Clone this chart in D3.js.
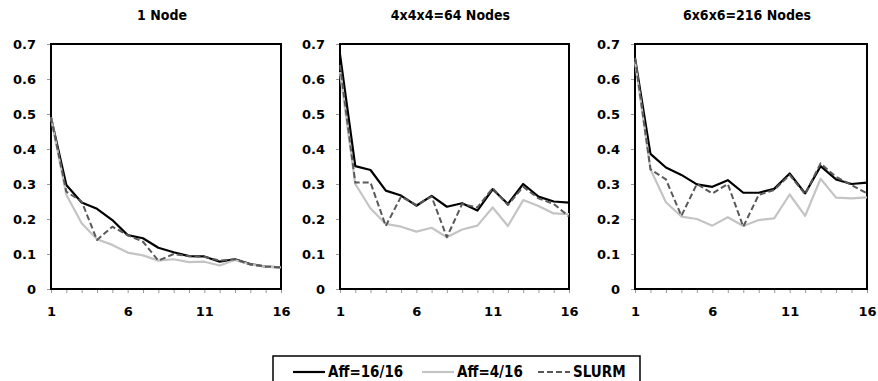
<!DOCTYPE html>
<meta charset="utf-8">
<head>
<style>
body { margin: 0; background: #fff; }
.axis text { font-family: 'DejaVu Sans', Verdana, sans-serif; font-weight: bold; font-size: 13px; fill: #000; }
.axis path { display: none; }
.x.axis line { stroke: #999; }
.y.axis line { stroke: #999; }
.title { font-family: 'Liberation Sans Narrow', 'DejaVu Sans Condensed', 'DejaVu Sans', sans-serif; font-weight: bold; font-size: 14px; }
.legend text { font-family: 'Liberation Sans Narrow', 'DejaVu Sans Condensed', 'DejaVu Sans', sans-serif; font-weight: bold; font-size: 15px; }
</style>
</head>
<body>
<div id="chart"></div>
<script src="https://d3js.org/d3.v7.min.js"></script>
<script>

var threads = d3.range(1, 17);
var xLabels = [1, 6, 11, 16];
var yTicks = [0, 0.1, 0.2, 0.3, 0.4, 0.5, 0.6, 0.7];
var titles = ["1 Node", "4x4x4=64 Nodes", "6x6x6=216 Nodes"];
var seriesNames = ["Aff=16/16", "Aff=4/16", "SLURM"];

// one array per panel and series
var node1Aff16 = [0.49, 0.297, 0.247, 0.229, 0.197, 0.154, 0.145, 0.118, 0.105, 0.094, 0.093, 0.078, 0.085, 0.071, 0.064, 0.062];
var node1Aff4  = [0.49, 0.269, 0.188, 0.142, 0.126, 0.104, 0.096, 0.081, 0.085, 0.077, 0.078, 0.067, 0.083, 0.070, 0.064, 0.062];
var node1Slurm = [0.49, 0.278, 0.250, 0.140, 0.178, 0.154, 0.135, 0.081, 0.100, 0.094, 0.092, 0.081, 0.085, 0.070, 0.064, 0.062];

var node64Aff16 = [0.67, 0.351, 0.340, 0.281, 0.267, 0.238, 0.266, 0.235, 0.245, 0.224, 0.285, 0.243, 0.300, 0.264, 0.250, 0.247];
var node64Aff4  = [0.62, 0.300, 0.230, 0.186, 0.178, 0.164, 0.175, 0.148, 0.170, 0.181, 0.233, 0.180, 0.254, 0.237, 0.216, 0.214];
var node64Slurm = [0.64, 0.304, 0.304, 0.180, 0.264, 0.240, 0.264, 0.148, 0.243, 0.233, 0.288, 0.240, 0.292, 0.259, 0.243, 0.207];

var node216Aff16 = [0.66, 0.386, 0.347, 0.326, 0.299, 0.292, 0.311, 0.275, 0.275, 0.286, 0.330, 0.273, 0.351, 0.313, 0.300, 0.304];
var node216Aff4  = [0.65, 0.342, 0.248, 0.207, 0.200, 0.181, 0.205, 0.180, 0.197, 0.202, 0.270, 0.209, 0.315, 0.261, 0.259, 0.262];
var node216Slurm = [0.66, 0.342, 0.313, 0.209, 0.300, 0.273, 0.300, 0.178, 0.269, 0.283, 0.326, 0.271, 0.359, 0.320, 0.297, 0.273];

var panels = [
  {title: titles[0], x0: 51, x1: 281, series: [node1Aff16, node1Aff4, node1Slurm]},
  {title: titles[1], x0: 340, x1: 569, series: [node64Aff16, node64Aff4, node64Slurm]},
  {title: titles[2], x0: 635, x1: 867, series: [node216Aff16, node216Aff4, node216Slurm]}
];

var styles = [
  {stroke: "#000", width: 2.2, dash: null},
  {stroke: "#c4c4c4", width: 2.2, dash: null},
  {stroke: "#595959", width: 2, dash: "6,3"}
];

var plotTop = 44, plotBottom = 289;

var svg = d3.select("#chart").append("svg")
    .attr("width", 878)
    .attr("height", 381);

var y = d3.scaleLinear().domain([0, 0.7]).range([plotBottom, plotTop]);

panels.forEach(function(p) {
  var x = d3.scaleLinear().domain([1, 16]).range([p.x0, p.x1]);

  var g = svg.append("g");

  g.append("text")
      .attr("class", "title")
      .attr("x", (p.x0 + p.x1) / 2 - 4)
      .attr("y", 20)
      .attr("text-anchor", "middle")
      .text(p.title);

  g.append("g")
      .attr("class", "x axis")
      .attr("transform", "translate(0," + plotBottom + ")")
      .call(d3.axisBottom(x)
        .tickValues(threads)
        .tickSize(4)
        .tickPadding(14)
        .tickFormat(function(d) { return xLabels.indexOf(d) >= 0 ? d : ""; }));

  g.append("g")
      .attr("class", "y axis")
      .attr("transform", "translate(" + p.x0 + ",0)")
      .call(d3.axisLeft(y)
        .tickValues(yTicks)
        .tickSize(4)
        .tickPadding(11)
        .tickFormat(function(d) { return d === 0 ? "0" : d3.format(".1f")(d); }));

  g.append("rect")
      .attr("x", p.x0)
      .attr("y", plotTop)
      .attr("width", p.x1 - p.x0)
      .attr("height", plotBottom - plotTop)
      .attr("fill", "none")
      .attr("stroke", "#000")
      .attr("stroke-width", 2);

  var line = d3.line()
      .x(function(d, i) { return x(threads[i]); })
      .y(function(d) { return y(d); });

  p.series.forEach(function(s, k) {
    g.append("path")
        .datum(s)
        .attr("d", line)
        .attr("fill", "none")
        .attr("stroke", styles[k].stroke)
        .attr("stroke-width", styles[k].width)
        .attr("stroke-dasharray", styles[k].dash)
        .attr("stroke-linejoin", "round");
  });
});

// legend
var legend = svg.append("g").attr("class", "legend");

legend.append("rect")
    .attr("x", 273)
    .attr("y", 356)
    .attr("width", 367)
    .attr("height", 40)
    .attr("fill", "#fff")
    .attr("stroke", "#000")
    .attr("stroke-width", 1.5);

var legendX = [293, 422, 538];
seriesNames.forEach(function(name, k) {
  legend.append("line")
      .attr("x1", legendX[k])
      .attr("x2", legendX[k] + 32)
      .attr("y1", 372)
      .attr("y2", 372)
      .attr("stroke", styles[k].stroke)
      .attr("stroke-width", styles[k].width)
      .attr("stroke-dasharray", styles[k].dash);
  legend.append("text")
      .attr("x", legendX[k] + 35)
      .attr("y", 377)
      .text(name);
});

</script>
</body>
